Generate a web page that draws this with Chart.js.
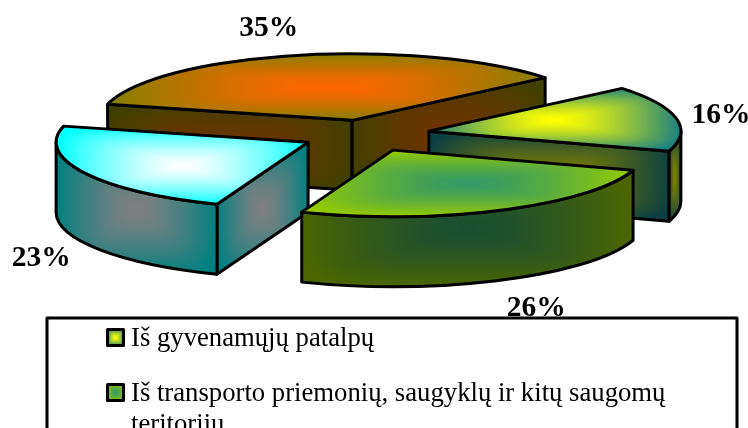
<!DOCTYPE html>
<html>
<head>
<meta charset="utf-8">
<style>html,body{margin:0;padding:0;background:#fff;overflow:hidden}canvas{display:block}</style>
<script src="https://cdn.jsdelivr.net/npm/chart.js@4"></script>
</head>
<body>
<canvas id="c" width="748" height="428"></canvas>
<script>
const categories = ['Iš gyvenamųjų patalpų', 'Iš transporto priemonių, saugyklų ir kitų saugomų teritorijų', '', ''];
const shares = [16, 26, 23, 35];
const sliceOffsets = [31, 31, 30, 26];
const topInner = ['#FFFF00', '#339966', '#FFFFFF', '#FF6600'];
const topOuter = ['#1B8080', '#99CC00', '#00FFFF', '#808000'];
const sideInner = ['#808000', '#1A4D33', '#808080', '#703300'];
const sideOuter = ['#0D4040', '#4D6600', '#008080', '#404000'];
const labelShift = [[3, -1], [16, 18], [-5, 10], [-17, -16]];

function hex(c){return [1,3,5].map(i=>parseInt(c.substr(i,2),16));}
function paintGradient(ctx, box, inner, outer){
  const x0=Math.floor(box.x0), y0=Math.floor(box.y0);
  const w=Math.max(1,Math.ceil(box.x1)-x0), h=Math.max(1,Math.ceil(box.y1)-y0);
  const off=document.createElement('canvas'); off.width=w; off.height=h;
  const o=off.getContext('2d'), im=o.createImageData(w,h);
  const a=hex(inner), b=hex(outer);
  for(let j=0;j<h;j++)for(let i=0;i<w;i++){
    const dx=Math.abs((i+.5)/w-.5)*2, dy=Math.abs((j+.5)/h-.5)*2;
    const t=Math.min(1,Math.pow(Math.pow(dx,5)+Math.pow(dy,5),1/5));
    const s=Math.pow(t,1.35);
    const p=(j*w+i)*4;
    for(let k=0;k<3;k++)im.data[p+k]=a[k]+(b[k]-a[k])*s;
    im.data[p+3]=255;
  }
  o.putImageData(im,0,0);
  ctx.drawImage(off,x0,y0);
}
function boundsOf(pts){
  return {x0:Math.min(...pts.map(p=>p[0])),x1:Math.max(...pts.map(p=>p[0])),
          y0:Math.min(...pts.map(p=>p[1])),y1:Math.max(...pts.map(p=>p[1]))};
}

const tiltedPie = {
  id:'tiltedPie',
  beforeDraw(chart){
    const c=chart.ctx; c.save(); c.fillStyle='#fff'; c.fillRect(0,0,chart.width,chart.height); c.restore();
  },
  beforeDatasetDraw(chart,args,opts){
    const ctx=chart.ctx, meta=chart.getDatasetMeta(0);
    const {rx,ry,depth,lineWidth}=opts;
    const slices=meta.data.map((el,i)=>{
      const p=el.getProps(['x','y','startAngle','endAngle','outerRadius'],true);
      const mid=(p.startAngle+p.endAngle)/2, off=el.options.offset/p.outerRadius;
      return {i,s:p.startAngle,e:p.endAngle,mid,
        cx:p.x+off*rx*Math.cos(mid), cy:p.y+off*ry*Math.sin(mid)};
    });
    const face=(build,pts,inner,outer)=>{
      ctx.save(); ctx.beginPath(); build(); ctx.closePath(); ctx.clip();
      paintGradient(ctx,boundsOf(pts),inner,outer); ctx.restore();
      ctx.beginPath(); build(); ctx.closePath();
      ctx.lineWidth=lineWidth; ctx.strokeStyle='#000'; ctx.lineJoin='round'; ctx.stroke();
    };
    const wall=(sl,ang)=>{
      const px=sl.cx+rx*Math.cos(ang), py=sl.cy+ry*Math.sin(ang);
      const pts=[[sl.cx,sl.cy],[px,py],[px,py+depth],[sl.cx,sl.cy+depth]];
      face(()=>{ctx.moveTo(...pts[0]);pts.slice(1).forEach(q=>ctx.lineTo(...q));},pts,sideInner[sl.i],sideOuter[sl.i]);
    };
    const arcPts=(sl,a,b,dy)=>{const r=[];for(let k=0;k<=40;k++){const t=a+(b-a)*k/40;r.push([sl.cx+rx*Math.cos(t),sl.cy+ry*Math.sin(t)+dy]);}return r;};
    [...slices].sort((a,b)=>a.cy-b.cy).forEach(sl=>{
      if(Math.cos(sl.s)<0) wall(sl,sl.s);
      if(Math.cos(sl.e)>0) wall(sl,sl.e);
      const a=Math.max(sl.s,0), b=Math.min(sl.e,Math.PI);
      if(b>a){
        const pts=[...arcPts(sl,a,b,0),...arcPts(sl,a,b,depth)];
        face(()=>{
          ctx.ellipse(sl.cx,sl.cy,rx,ry,0,a,b,false);
          ctx.ellipse(sl.cx,sl.cy+depth,rx,ry,0,b,a,true);
        },pts,sideInner[sl.i],sideOuter[sl.i]);
      }
      const pts=[[sl.cx,sl.cy],...arcPts(sl,sl.s,sl.e,0)];
      face(()=>{
        ctx.moveTo(sl.cx,sl.cy);
        ctx.ellipse(sl.cx,sl.cy,rx,ry,0,sl.s,sl.e,false);
      },pts,topInner[sl.i],topOuter[sl.i]);
    });
    // value labels
    ctx.save();
    ctx.font='bold 29.5px "Liberation Serif"'; ctx.fillStyle='#000';
    ctx.textAlign='center'; ctx.textBaseline='middle';
    slices.forEach(sl=>{
      const below=Math.sin(sl.mid)>0?depth:0;
      const x=sl.cx+opts.labelFactor*rx*Math.cos(sl.mid)+labelShift[sl.i][0];
      const y=sl.cy+opts.labelFactor*ry*Math.sin(sl.mid)+below+labelShift[sl.i][1];
      ctx.fillText(shares[sl.i]+'%',x,y);
    });
    ctx.restore();
    // legend panel
    const L=opts.legend;
    ctx.save();
    ctx.fillStyle='#fff'; ctx.strokeStyle='#000'; ctx.lineWidth=3;
    ctx.fillRect(L.x,L.y,L.w,L.h); ctx.strokeRect(L.x,L.y,L.w,L.h);
    ctx.font=L.font; ctx.fillStyle='#000'; ctx.textAlign='left'; ctx.textBaseline='alphabetic';
    let base=L.firstBaseline;
    chart.data.labels.forEach((txt,i)=>{
      if(!txt) return;
      const lines=[]; let cur='';
      txt.split(' ').forEach(w=>{
        const t=cur?cur+' '+w:w;
        if(ctx.measureText(t).width>L.wrap&&cur){lines.push(cur);cur=w;} else cur=t;
      });
      lines.push(cur);
      const bx=L.swatchX, by=base-16.5, sz=L.swatch;
      paintGradient(ctx,{x0:bx,y0:by,x1:bx+sz,y1:by+sz},topInner[i],topOuter[i]);
      ctx.lineWidth=3; ctx.strokeRect(bx,by,sz,sz);
      lines.forEach((ln,k)=>ctx.fillText(ln,L.textX,base+k*L.lineGap));
      base+=L.itemGap+(lines.length-1)*L.lineGap;
    });
    ctx.restore();
    return false;
  }
};

new Chart(document.getElementById('c'),{
  type:'pie',
  data:{labels:categories,datasets:[{data:shares,offset:sliceOffsets,backgroundColor:topInner,borderWidth:0}]},
  options:{
    responsive:false,animation:false,rotation:50,
    layout:{padding:{left:0,right:19,top:0,bottom:159}},
    plugins:{
      legend:{display:false},tooltip:{enabled:false},
      tiltedPie:{rx:252,ry:66.5,depth:70,lineWidth:3,labelFactor:1.17,
        legend:{x:47,y:318,w:690,h:130,font:'26.7px "Liberation Serif"',firstBaseline:346,
          swatchX:107.5,swatch:16,textX:131,wrap:570,lineGap:31,itemGap:55}}
    }
  },
  plugins:[tiltedPie]
});
</script>
</body>
</html>
